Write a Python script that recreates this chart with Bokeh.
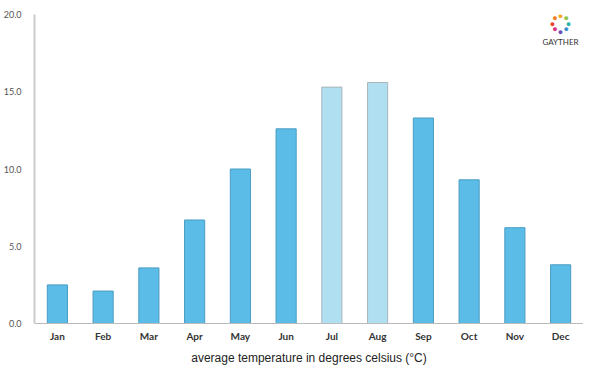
from bokeh.plotting import figure
from bokeh.models import FactorRange, Range1d, FixedTicker, NumeralTickFormatter, Label, ColumnDataSource
from bokeh.embed import file_html
from bokeh.resources import INLINE
import math

months = ["Jan", "Feb", "Mar", "Apr", "May", "Jun", "Jul", "Aug", "Sep", "Oct", "Nov", "Dec"]
temps = [2.5, 2.1, 3.6, 6.7, 10.0, 12.6, 15.3, 15.6, 13.3, 9.3, 6.2, 3.8]
highlight = [False, False, False, False, False, False, True, True, False, False, False, False]
y_ticks = [0, 5, 10, 15, 20]
x_title = "average temperature in degrees celsius (°C)"

fill = ["#b0dff2" if h else "#5bbde7" for h in highlight]
line = ["#a9b4b9" if h else "#4a9cc2" for h in highlight]
src = ColumnDataSource(dict(m=months, t=temps, fill=fill, line=line))

p = figure(x_range=FactorRange(*months, range_padding=0), y_range=Range1d(0, 20),
           frame_width=549, frame_height=309, output_backend="svg", toolbar_location=None,
           min_border_left=32, min_border_right=0, min_border_top=14, min_border_bottom=0)
p.vbar(x="m", top="t", width=0.44, source=src, fill_color="fill", line_color="line", line_width=1)

p.xgrid.visible = False
p.ygrid.visible = False
p.outline_line_color = None

p.yaxis.ticker = FixedTicker(ticks=y_ticks)
p.yaxis.formatter = NumeralTickFormatter(format="0.0")
p.yaxis.axis_line_color = "#cccccc"
p.yaxis.axis_line_width = 2
p.yaxis.major_tick_line_color = None
p.yaxis.minor_tick_line_color = None
p.yaxis.major_label_text_font = "Lato"
p.yaxis.major_label_text_font_size = "9px"
p.yaxis.major_label_text_color = "#555555"
p.yaxis.major_label_standoff = 7

p.xaxis.axis_line_color = "#bbbbbb"
p.xaxis.axis_line_width = 1
p.xaxis.major_tick_line_color = None
p.xaxis.minor_tick_line_color = None
p.xaxis.major_tick_in = 0
p.xaxis.major_tick_out = 0
p.xaxis.major_label_text_font = "Lato"
p.xaxis.major_label_text_font_size = "10px"
p.xaxis.major_label_text_font_style = "bold"
p.xaxis.major_label_text_color = "#333333"
p.xaxis.major_label_standoff = 6
p.xaxis.axis_label = x_title
p.xaxis.axis_label_text_font = "Liberation Sans"
p.xaxis.axis_label_text_font_size = "12px"
p.xaxis.axis_label_text_font_style = "normal"
p.xaxis.axis_label_text_color = "#222222"
p.xaxis.axis_label_standoff = 6

# logo
logo_colors = ["#f5a623", "#8cc63f", "#2bb5a8", "#3a8fd0", "#6c4fb8", "#d9307f", "#e8412c", "#f47b20"]
cx, cy, r = 526, 300, 8
for i, c in enumerate(logo_colors):
    a = math.pi / 2 - i * 2 * math.pi / len(logo_colors)
    p.add_layout(Label(x=cx + r * math.cos(a), y=cy + r * math.sin(a), x_units="screen", y_units="screen",
                       text="●", text_color=c, text_font_size="9px", text_align="center", text_baseline="middle"))
p.add_layout(Label(x=cx, y=282, x_units="screen", y_units="screen", text="GAYTHER",
                   text_font="Lato", text_font_size="8px", text_color="#333333",
                   text_align="center", text_baseline="middle"))

open("out.html", "w").write(file_html(p, INLINE))
